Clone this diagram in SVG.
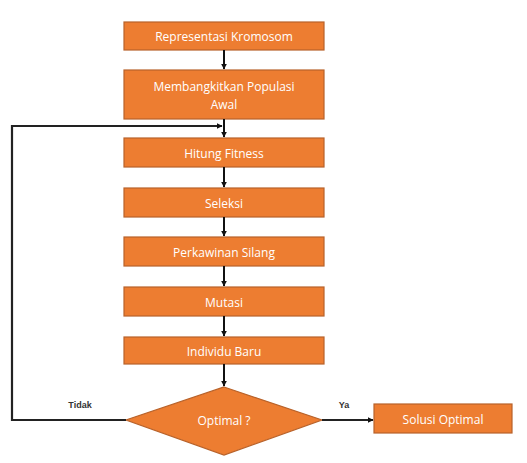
<svg xmlns="http://www.w3.org/2000/svg" width="527" height="463" viewBox="0 0 527 463">
<style>
.box{fill:#ED7D31;stroke:#B8622A;stroke-width:1.2}
.t{fill:#fff;font-family:"Open Sans","Liberation Sans",sans-serif;font-size:12px;text-anchor:middle;dominant-baseline:central}
.c{fill:none;stroke:#222;stroke-width:2.2}
.a{fill:none;stroke:#111;stroke-width:2}
.lbl{fill:#333;font-family:"Liberation Sans",sans-serif;font-size:9px;font-weight:bold;text-anchor:middle}
</style>
<defs>
<marker id="ah" viewBox="0 0 10 10" refX="9" refY="5" markerWidth="6" markerHeight="6" orient="auto" markerUnits="userSpaceOnUse"><path d="M0,0 L10,5 L0,10 z" fill="#111"/></marker>
</defs>
<rect width="527" height="463" fill="#fff"/>
<g id="n1"><rect class="box" x="124" y="22" width="200" height="28"/><text class="t" x="224" y="36">Representasi Kromosom</text></g>
<g id="n2"><rect class="box" x="124" y="70" width="200" height="49"/><text class="t" x="224" y="86">Membangkitkan Populasi</text><text class="t" x="224" y="104">Awal</text></g>
<g id="n3"><rect class="box" x="124" y="138" width="200" height="29"/><text class="t" x="224" y="153">Hitung Fitness</text></g>
<g id="n4"><rect class="box" x="124" y="188" width="200" height="29"/><text class="t" x="224" y="203">Seleksi</text></g>
<g id="n5"><rect class="box" x="124" y="237" width="200" height="29"/><text class="t" x="224" y="252">Perkawinan Silang</text></g>
<g id="n6"><rect class="box" x="124" y="287" width="200" height="29"/><text class="t" x="224" y="302">Mutasi</text></g>
<g id="n7"><rect class="box" x="124" y="337" width="200" height="27"/><text class="t" x="224" y="351">Individu Baru</text></g>
<g id="n8"><polygon class="box" points="224,387 322,420 224,455 126,420"/><text class="t" x="224" y="420">Optimal ?</text></g>
<g id="n9"><rect class="box" x="374" y="404" width="138" height="29"/><text class="t" x="443" y="419">Solusi Optimal</text></g>
<g id="connectors">
<line class="a" x1="224" y1="50" x2="224" y2="69" marker-end="url(#ah)"/>
<line class="a" x1="224" y1="119" x2="224" y2="137" marker-end="url(#ah)"/>
<line class="a" x1="224" y1="167" x2="224" y2="187" marker-end="url(#ah)"/>
<line class="a" x1="224" y1="217" x2="224" y2="236" marker-end="url(#ah)"/>
<line class="a" x1="224" y1="266" x2="224" y2="286" marker-end="url(#ah)"/>
<line class="a" x1="224" y1="316" x2="224" y2="336" marker-end="url(#ah)"/>
<line class="a" x1="224" y1="364" x2="224" y2="386" marker-end="url(#ah)"/>
<polyline class="c" points="126,420 12,420 12,126 222,126" marker-end="url(#ah)"/>
<line class="c" x1="322" y1="420" x2="373" y2="420" marker-end="url(#ah)"/>
<text class="lbl" x="80" y="408">Tidak</text>
<text class="lbl" x="344" y="408">Ya</text>
</g>
</svg>
